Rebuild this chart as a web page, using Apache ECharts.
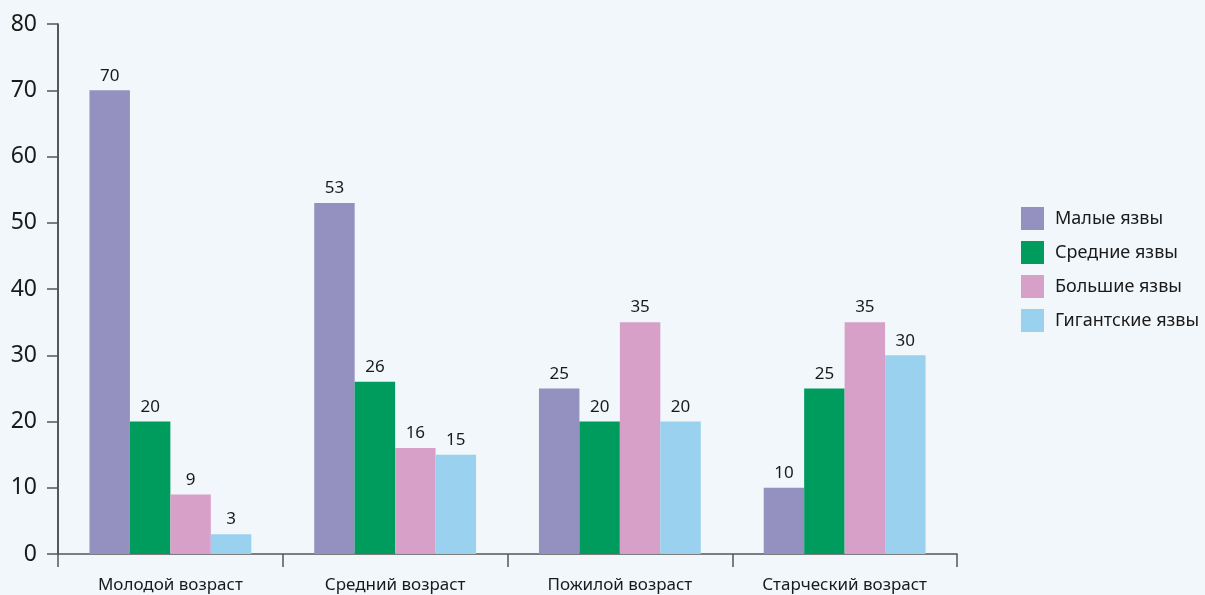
<!DOCTYPE html>
<html>
<head>
<meta charset="utf-8">
<script src="https://cdn.jsdelivr.net/npm/echarts@6/dist/echarts.min.js"></script>
<style>
  html, body { margin: 0; padding: 0; background: #f2f7fb; }
  #chart { width: 1205px; height: 595px; }
</style>
</head>
<body>
<div id="chart"></div>
<script>
// Age groups along the x axis
const categories = ['Молодой возраст', 'Средний возраст', 'Пожилой возраст', 'Старческий возраст'];
// Ulcer size groups (one series each)
const seriesNames = ['Малые язвы', 'Средние язвы', 'Большие язвы', 'Гигантские язвы'];
const smallUlcers = [70, 53, 25, 10];
const mediumUlcers = [20, 26, 20, 25];
const largeUlcers = [9, 16, 35, 35];
const giantUlcers = [3, 15, 20, 30];
const colors = ['#9490c0', '#009c5e', '#d6a0c8', '#99d1ef'];

const FONT = 'Noto Sans';
const values = [smallUlcers, mediumUlcers, largeUlcers, giantUlcers];

const chart = echarts.init(document.getElementById('chart'));
chart.setOption({
  backgroundColor: '#f2f7fb',
  animation: false,
  textStyle: { fontFamily: FONT },
  grid: { left: 58, right: 248, top: 24, bottom: 41, containLabel: false },
  legend: {
    orient: 'vertical',
    left: 1016,
    top: 202,
    itemWidth: 23,
    itemHeight: 23,
    itemGap: 11,
    icon: 'rect',
    textStyle: { fontFamily: FONT, fontSize: 18, color: '#1a1a1a', padding: [0, 0, 0, 6] },
    data: seriesNames
  },
  xAxis: {
    type: 'category',
    data: categories,
    axisLine: { lineStyle: { color: '#555', width: 1.5 } },
    axisTick: { show: true, length: 13, lineStyle: { color: '#555', width: 1.5 } },
    axisLabel: { fontFamily: FONT, fontSize: 17, color: '#1a1a1a', margin: 23 }
  },
  yAxis: {
    type: 'value',
    min: 0,
    max: 80,
    interval: 10,
    splitLine: { show: false },
    axisLine: { show: true, lineStyle: { color: '#222', width: 1.5 } },
    axisTick: { show: true, length: 11, lineStyle: { color: '#555', width: 1.5 } },
    axisLabel: { fontFamily: FONT, fontSize: 23, color: '#1a1a1a', margin: 21 }
  },
  series: seriesNames.map((name, i) => ({
    name: name,
    type: 'bar',
    data: values[i],
    barGap: '0%',
    barCategoryGap: '28%',
    itemStyle: { color: colors[i] },
    label: {
      show: true,
      position: 'top',
      distance: 6,
      fontFamily: FONT,
      fontSize: 17,
      color: '#1a1a1a'
    }
  }))
});
</script>
</body>
</html>
